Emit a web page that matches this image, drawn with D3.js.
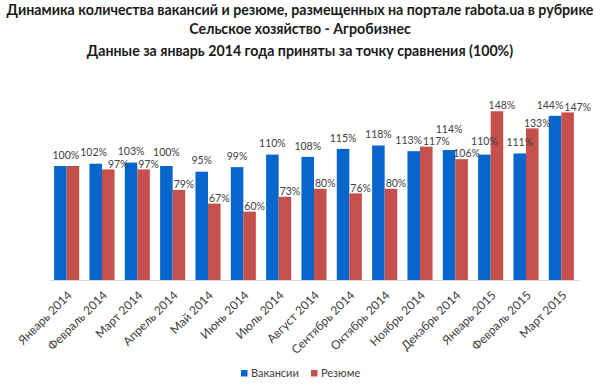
<!DOCTYPE html>
<html><head><meta charset="utf-8">
<script src="https://cdn.jsdelivr.net/npm/d3@7/dist/d3.min.js"></script>
<style>body{margin:0;background:#fff}svg{display:block}</style>
</head><body>
<svg id="c" width="600" height="392"></svg>
<script>
const titleLines = [
  "Динамика количества вакансий и резюме, размещенных на портале rabota.ua в рубрике",
  "Сельское хозяйство - Агробизнес",
  "Данные за январь 2014 года приняты за точку сравнения (100%)"
];
const categories = ["Январь 2014","Февраль 2014","Март 2014","Апрель 2014","Май 2014","Июнь 2014","Июль 2014","Август 2014","Сентябрь 2014","Октябрь 2014","Ноябрь 2014","Декабрь 2014","Январь 2015","Февраль 2015","Март 2015"];
const seriesNames = ["Вакансии","Резюме"];
const vacancies = [100,102,103,100,95,99,110,108,115,118,113,114,110,111,144];
const resumes   = [100,97,97,79,67,60,73,80,76,80,117,106,148,133,147];

const colors = ["#0766CC","#C6504C"];
const svg = d3.select("#c");
const font = "Lato, 'Open Sans', sans-serif";

// titles
const titleY = [14.5, 34, 56];
svg.selectAll("text.title").data(titleLines).join("text")
  .attr("class","title")
  .attr("x",300).attr("y",(d,i)=>titleY[i])
  .attr("text-anchor","middle")
  .attr("font-family",font).attr("font-weight","bold").attr("font-size",14.2)
  .attr("fill","#1a1a1a")
  .text(d=>d);

const x0 = d3.scaleBand().domain(categories).range([49,579]).paddingInner(0.29).paddingOuter(0.145);
const x1 = d3.scaleBand().domain([0,1]).range([0,x0.bandwidth()]);
const y = d3.scaleLinear().domain([0,100]).range([280,166]);

const data = categories.map((c,i)=>({c, i, vals:[vacancies[i],resumes[i]]}));

const g = svg.append("g");
const groups = g.selectAll("g.grp").data(data).join("g").attr("class","grp")
  .attr("transform",d=>`translate(${x0(d.c)},0)`);
groups.selectAll("rect").data(d=>d.vals.map((v,k)=>({v,k}))).join("rect")
  .attr("x",d=>x1(d.k)).attr("width",x1.bandwidth())
  .attr("y",d=>y(d.v)).attr("height",d=>y(0)-y(d.v))
  .attr("fill",d=>colors[d.k]);

// labels with collision avoidance
const fs = 10.5, lh = 12;
const labG = svg.append("g");
const labs = [];
data.forEach(d=>{
  const same = d.vals[0]===d.vals[1];
  d.vals.forEach((v,k)=>{
    if(same && k===1) return;
    const base = x0(d.c);
    const cx = same ? base + x0.bandwidth()/2+2 : base + x1(k)+x1.bandwidth()/2 + (k===1?5:0);
    const cy = y(v) - (k===0?11:5.5);
    const t = labG.append("text")
      .attr("text-anchor","middle")
      .attr("font-family",font).attr("font-size",fs)
      .attr("fill","#404040")
      .text(v+"%");
    labs.push({t, cx, cy, w: t.node().getComputedTextLength(), grp:d.i});
  });
});
for(let it=0; it<40; it++){
  let moved=false;
  for(let i=0;i<labs.length;i++) for(let j=i+1;j<labs.length;j++){
    const a=labs[i], b=labs[j];
    const ox = (a.w+b.w)/2 + 1 - Math.abs(a.cx-b.cx);
    const oy = lh - Math.abs(a.cy-b.cy);
    if(ox>0 && oy>0){
      moved=true;
      if(a.grp===b.grp || ox <= oy){
        const s = a.cx<=b.cx ? 1 : -1;
        a.cx -= s*ox/2; b.cx += s*ox/2;
      } else {
        if(a.cy<b.cy) a.cy -= oy; else b.cy -= oy;
      }
    }
  }
  if(!moved) break;
}
labs.forEach(l=>l.t.attr("x",l.cx).attr("y",l.cy).attr("dy","0.35em"));

// axis
const ax = svg.append("g").attr("transform","translate(0,280)")
  .call(d3.axisBottom(x0).tickSize(0).tickSizeOuter(0).tickPadding(0));
ax.select(".domain").attr("stroke","#d9d9d9");
ax.selectAll(".tick text")
  .attr("font-family",font).attr("font-size",12).attr("fill","#404040")
  .attr("text-anchor","end")
  .attr("transform","translate(3,13) rotate(-45)")
  .attr("dy","0.35em").attr("y",0);

// legend
const legX = [241, 311];
const leg = svg.selectAll("g.leg").data(seriesNames).join("g").attr("class","leg")
  .attr("transform",(d,i)=>`translate(${legX[i]},370)`);
leg.append("rect").attr("width",6.5).attr("height",6.5).attr("fill",(d,i)=>colors[i]);
leg.append("text").attr("x",10).attr("y",3.5).attr("dy","0.35em")
  .attr("font-family",font).attr("font-size",11).attr("fill","#404040").text(d=>d);
</script>
</body></html>
